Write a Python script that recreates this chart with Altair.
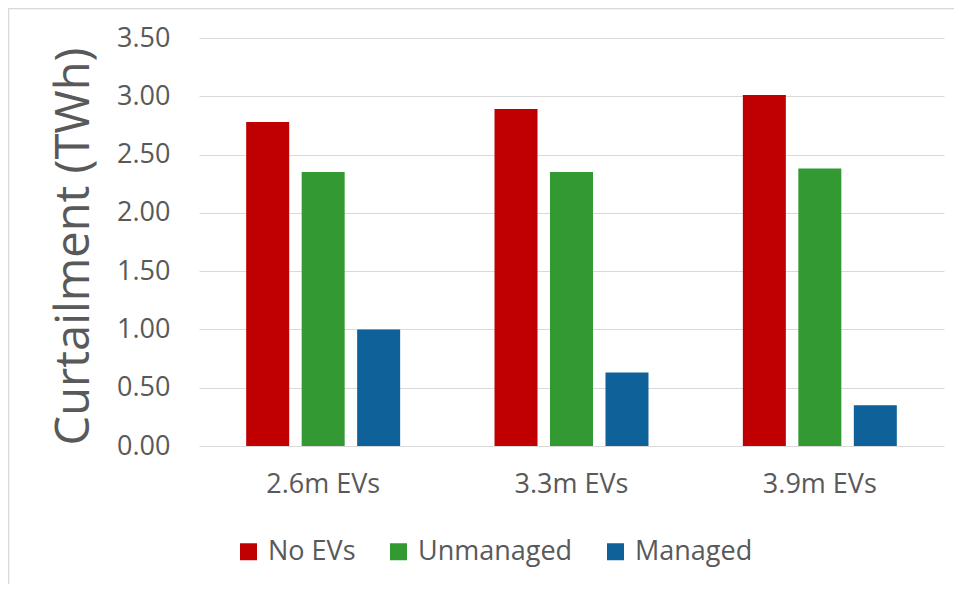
import altair as alt
import pandas as pd

categories = ["2.6m EVs", "3.3m EVs", "3.9m EVs"]
series = ["No EVs", "Unmanaged", "Managed"]
no_evs = [2.78, 2.89, 3.01]
unmanaged = [2.35, 2.35, 2.38]
managed = [1.00, 0.63, 0.35]
colors = ["#C00000", "#339933", "#0E6199"]
y_ticks = [0, 0.5, 1.0, 1.5, 2.0, 2.5, 3.0, 3.5]

rows = []
for name, vals in zip(series, [no_evs, unmanaged, managed]):
    for c, v in zip(categories, vals):
        rows.append({"category": c, "series": name, "value": v})
df = pd.DataFrame(rows)

FONT = "Open Sans"
TXT = "#595959"
W, H = 745, 408

bars = alt.Chart(df).mark_bar().encode(
    x=alt.X("category:N", sort=categories,
            scale=alt.Scale(paddingInner=0.38, paddingOuter=0.19),
            axis=alt.Axis(title=None, labelAngle=0, labelFontSize=27, labelColor=TXT,
                          labelFont=FONT, labelPadding=25, domain=False, ticks=False,
                          grid=False)),
    xOffset=alt.XOffset("series:N", sort=series,
                        scale=alt.Scale(paddingInner=0.225, paddingOuter=0)),
    y=alt.Y("value:Q", scale=alt.Scale(domain=[0, 3.5], nice=False),
            axis=alt.Axis(title="Curtailment (TWh)", values=y_ticks, format=".2f",
                          labelFontSize=27, labelColor=TXT, labelFont=FONT,
                          labelPadding=29, domain=False, ticks=False,
                          gridColor="#D9D9D9", gridWidth=1,
                          titleFontSize=47, titleFont=FONT, titleColor=TXT,
                          titleFontWeight="normal", titleX=-101, titleY=208)),
    color=alt.Color("series:N", sort=series,
                    scale=alt.Scale(domain=series, range=colors),
                    legend=alt.Legend(title=None, orient="none", direction="horizontal",
                                      legendX=36, legendY=500, symbolType="square",
                                      symbolSize=289, symbolStrokeWidth=0,
                                      labelFontSize=27, labelFont=FONT, labelColor=TXT,
                                      labelOffset=6, columnPadding=29, padding=0)),
)

one = pd.DataFrame({"k": [0]})
top_line = alt.Chart(one).mark_rule(stroke="#D9D9D9", strokeWidth=1.5).encode(
    x=alt.value(-191), x2=alt.value(755), y=alt.value(-29.5)
)
left_line = alt.Chart(one).mark_rule(stroke="#D9D9D9", strokeWidth=1.5).encode(
    x=alt.value(-190.5), y=alt.value(-30), y2=alt.value(546)
)

chart = alt.layer(top_line, left_line, bars).properties(
    width=W, height=H,
    background="white",
    autosize=alt.AutoSizeParams(type="none"),
    padding={"left": 191, "top": 30, "right": 10, "bottom": 138},
).configure_view(strokeWidth=0, stroke="transparent")

chart.save("out.html", embed_options={"renderer": "svg", "actions": False})
